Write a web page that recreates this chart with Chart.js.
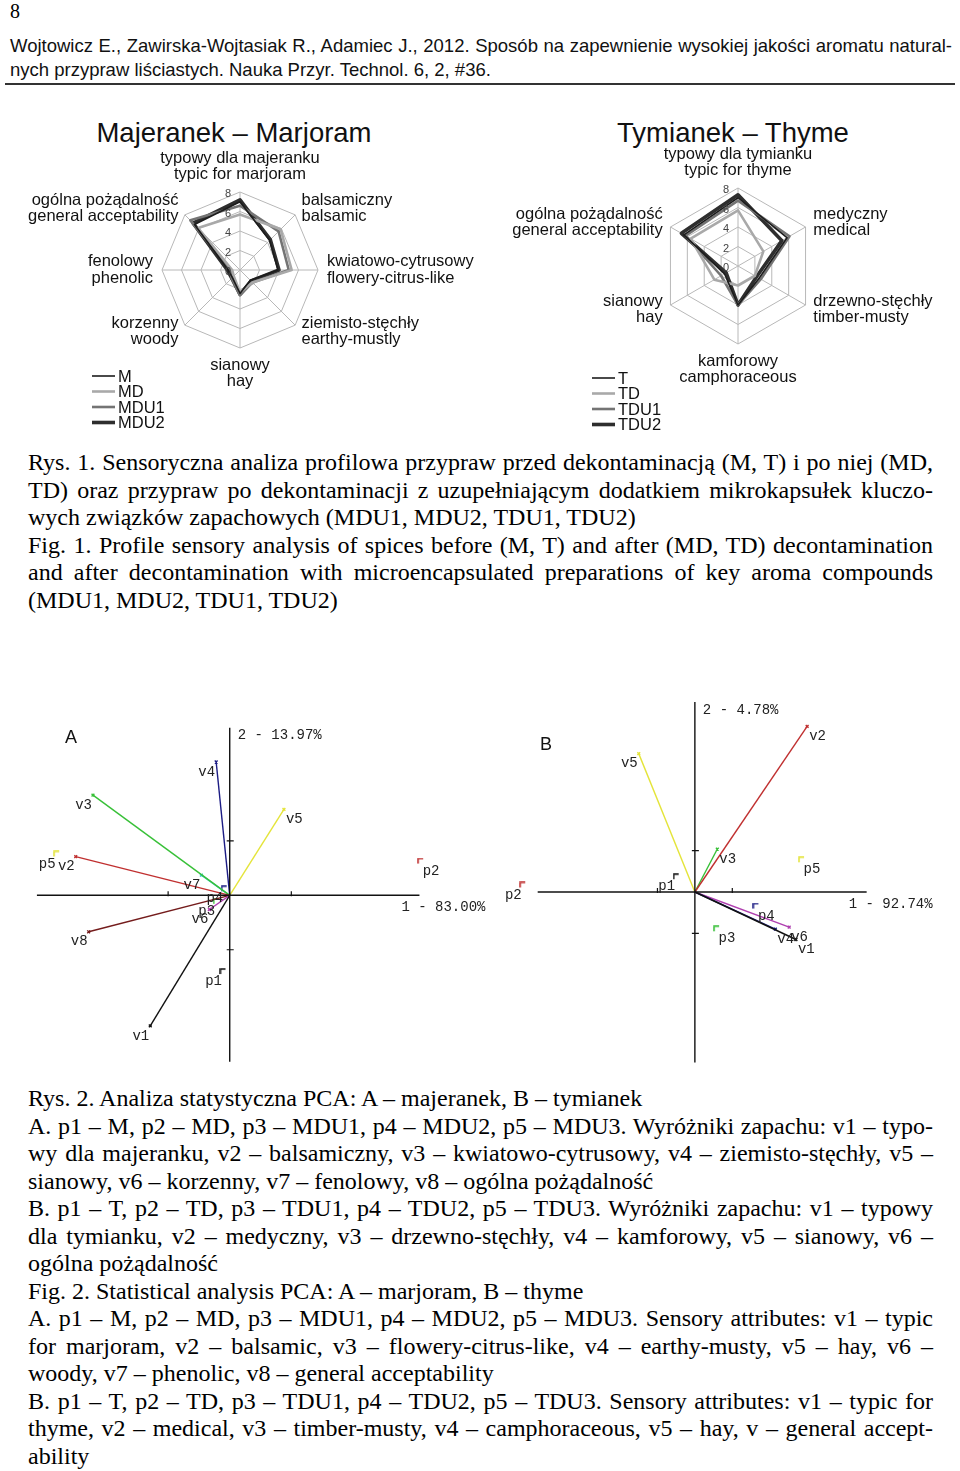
<!DOCTYPE html>
<html lang="pl">
<head>
<meta charset="UTF-8">
<script src="https://cdn.jsdelivr.net/npm/chart.js"></script>
<title>Majeranek i tymianek</title>
<style>
  body { margin:0; width:960px; height:1471px; position:relative; background:#fff; overflow:hidden; }
  canvas { position:absolute; }
  .abs { position:absolute; }
  .hdr { font-family:'Liberation Sans'; font-size:18.5px; line-height:24px; color:#111; left:10px; width:942px; top:34px; }
  .j { white-space:nowrap; }
  .cap { font-family:'Liberation Serif'; font-size:24px; line-height:27.5px; color:#000; left:28px; width:905px; }
  .ttl { font-family:'Liberation Sans'; font-size:27.5px; line-height:34px; color:#111; text-align:center; width:400px; top:116px; }
  .pan { font-family:'Liberation Sans'; font-size:18px; color:#111; }
</style>
</head>
<body>
<div class="abs" style="left:10px;top:0;font-family:'Liberation Serif';font-size:20px;">8</div>
<div class="abs hdr">
  <div class="j">Wojtowicz E., Zawirska-Wojtasiak R., Adamiec J., 2012. Sposób na zapewnienie wysokiej jakości aromatu natural-</div>
  <div>nych przypraw liściastych. Nauka Przyr. Technol. 6, 2, #36.</div>
</div>
<div class="abs" style="left:5px;top:83px;width:950px;height:2px;background:#333;"></div>

<div class="abs ttl" style="left:34px;">Majeranek – Marjoram</div>
<div class="abs ttl" style="left:533px;">Tymianek – Thyme</div>

<canvas id="radarMaj" width="470" height="330" style="left:20px;top:110px;"></canvas>
<canvas id="radarTym" width="460" height="330" style="left:500px;top:110px;"></canvas>

<div class="abs cap" style="top:449px;">
  <div class="j">Rys. 1. Sensoryczna analiza profilowa przypraw przed dekontaminacją (M, T) i po niej (MD,</div>
  <div class="j">TD) oraz przypraw po dekontaminacji z uzupełniającym dodatkiem mikrokapsułek kluczo-</div>
  <div>wych związków zapachowych (MDU1, MDU2, TDU1, TDU2)</div>
  <div class="j">Fig. 1. Profile sensory analysis of spices before (M, T) and after (MD, TD) decontamination</div>
  <div class="j">and after decontamination with microencapsulated preparations of key aroma compounds</div>
  <div>(MDU1, MDU2, TDU1, TDU2)</div>
</div>

<canvas id="pcaA" width="480" height="385" style="left:20px;top:690px;"></canvas>
<canvas id="pcaB" width="470" height="385" style="left:490px;top:690px;"></canvas>
<div class="abs pan" style="left:65px;top:727px;">A</div>
<div class="abs pan" style="left:540px;top:734px;">B</div>

<div class="abs cap" style="top:1085px;">
  <div>Rys. 2. Analiza statystyczna PCA: A – majeranek, B – tymianek</div>
  <div class="j">A. p1 – M, p2 – MD, p3 – MDU1, p4 – MDU2, p5 – MDU3. Wyróżniki zapachu: v1 – typo-</div>
  <div class="j">wy dla majeranku, v2 – balsamiczny, v3 – kwiatowo-cytrusowy, v4 – ziemisto-stęchły, v5 –</div>
  <div>sianowy, v6 – korzenny, v7 – fenolowy, v8 – ogólna pożądalność</div>
  <div class="j">B. p1 – T, p2 – TD, p3 – TDU1, p4 – TDU2, p5 – TDU3. Wyróżniki zapachu: v1 – typowy</div>
  <div class="j">dla tymianku, v2 – medyczny, v3 – drzewno-stęchły, v4 – kamforowy, v5 – sianowy, v6 –</div>
  <div>ogólna pożądalność</div>
  <div>Fig. 2. Statistical analysis PCA: A – marjoram, B – thyme</div>
  <div class="j">A. p1 – M, p2 – MD, p3 – MDU1, p4 – MDU2, p5 – MDU3. Sensory attributes: v1 – typic</div>
  <div class="j">for marjoram, v2 – balsamic, v3 – flowery-citrus-like, v4 – earthy-musty, v5 – hay, v6 –</div>
  <div>woody, v7 – phenolic, v8 – general acceptability</div>
  <div class="j">B. p1 – T, p2 – TD, p3 – TDU1, p4 – TDU2, p5 – TDU3. Sensory attributes: v1 – typic for</div>
  <div class="j">thyme, v2 – medical, v3 – timber-musty, v4 – camphoraceous, v5 – hay, v – general accept-</div>
  <div>ability</div>
</div>

<script>
// ---------- radar data ----------
const radarTicks = [0, 2, 4, 6, 8];

const majLabels = [
  ['typowy dla majeranku', 'typic for marjoram'],
  ['balsamiczny', 'balsamic'],
  ['kwiatowo-cytrusowy', 'flowery-citrus-like'],
  ['ziemisto-stęchły', 'earthy-mustly'],
  ['sianowy', 'hay'],
  ['korzenny', 'woody'],
  ['fenolowy', 'phenolic'],
  ['ogólna pożądalność', 'general acceptability']
];
const majSeries = ['M', 'MD', 'MDU1', 'MDU2'];
const majM    = [7.0, 4.3, 3.9, 1.5, 2.4, 1.1, 1.2, 6.6];
const majMD   = [5.7, 5.9, 5.3, 1.8, 2.3, 0.9, 0.8, 6.1];
const majMDU1 = [6.6, 5.6, 5.0, 1.8, 2.6, 1.2, 1.0, 7.2];
const majMDU2 = [7.2, 4.4, 4.0, 1.6, 2.5, 1.2, 1.3, 6.8];

const tymLabels = [
  ['typowy dla tymianku', 'typic for thyme'],
  ['medyczny', 'medical'],
  ['drzewno-stęchły', 'timber-musty'],
  ['kamforowy', 'camphoraceous'],
  ['sianowy', 'hay'],
  ['ogólna pożądalność', 'general acceptability']
];
const tymSeries = ['T', 'TD', 'TDU1', 'TDU2'];
const tymT    = [7.0, 5.8, 2.5, 4.0, 1.6, 6.4];
const tymTD   = [5.7, 3.0, 2.0, 2.0, 2.8, 5.6];
const tymTDU1 = [6.7, 6.1, 2.7, 4.0, 2.0, 6.2];
const tymTDU2 = [7.3, 5.2, 2.2, 4.0, 1.4, 6.7];

// ---------- PCA data ----------
const pcaAVars = ['v1', 'v2', 'v3', 'v4', 'v5', 'v6', 'v7', 'v8'];
const pcaAVarX = [-1.29, -2.50, -2.22, -0.22, 0.88, -0.33, -0.46, -2.29];
const pcaAVarY = [-2.40, 0.71, 1.84, 2.45, 1.58, -0.26, 0.37, -0.67];
const pcaAObs  = ['p1', 'p2', 'p3', 'p4', 'p5'];
const pcaAObsX = [-0.11, 3.10, -0.22, -0.09, -2.81];
const pcaAObsY = [-1.40, 0.63, -0.11, 0.12, 0.76];
const pcaAAxisX = [-3.13, 3.08];
const pcaAAxisY = [-3.06, 3.08];
const pcaATitles = ['1 - 83.00%', '2 - 13.97%'];

const pcaBVars = ['v1', 'v2', 'v3', 'v4', 'v5', 'v6'];
const pcaBVarX = [2.70, 3.00, 0.60, 2.15, -1.50, 2.52];
const pcaBVarY = [-1.15, 4.01, 1.04, -0.90, 3.35, -0.85];
const pcaBObs  = ['p1', 'p2', 'p3', 'p4', 'p5'];
const pcaBObsX = [-0.50, -4.60, 0.58, 1.63, 2.85];
const pcaBObsY = [0.37, 0.17, -0.89, -0.34, 0.78];
const pcaBAxisX = [-4.20, 4.59];
const pcaBAxisY = [-4.13, 4.60];
const pcaBTitles = ['1 - 92.74%', '2 - 4.78%'];

const pcaTicks = [-1, 1];

// ---------- style ----------
const greyStyles = [
  { color: '#1c1c1c', width: 1.6 },
  { color: '#a9a9a9', width: 2.6 },
  { color: '#747474', width: 2.6 },
  { color: '#2e2e2e', width: 3.6 }
];
const pcaPalette = ['#111111', '#c03030', '#38c038', '#1c1c84', '#e4e43a', '#b040b0', '#30c8c8', '#741c1c'];

// justowanie linii tekstu przez word-spacing (bez łamania)
function fitLine(el, target) {
  const span = document.createElement('span');
  while (el.firstChild) span.appendChild(el.firstChild);
  el.appendChild(span);
  const w = span.getBoundingClientRect().width;
  const n = (span.textContent.match(/ /g) || []).length;
  if (n) el.style.wordSpacing = ((target - w) / n) + 'px';
}
document.querySelectorAll('.j').forEach(el => fitLine(el, el.parentElement.clientWidth));

// etykiety osi, wartości skali i legenda dla wykresów radarowych
const radarDecor = {
  id: 'radarDecor',
  afterDraw(chart, args, opts) {
    const r = chart.scales.r;
    const ctx = chart.ctx;
    ctx.save();

    ctx.font = '11px "Liberation Sans"';
    ctx.fillStyle = '#444';
    ctx.textAlign = 'right';
    ctx.textBaseline = 'middle';
    radarTicks.forEach(v => {
      const d = r.getDistanceFromCenterForValue(v);
      ctx.fillText(String(v), r.xCenter - 9, r.yCenter - d + 2);
    });

    ctx.font = '16.5px "Liberation Sans"';
    ctx.fillStyle = '#111';
    ctx.textBaseline = 'top';
    const lh = 16.5;
    chart.data.labels.forEach((lines, i) => {
      const p = r.getPointPosition(i, r.drawingArea + opts.gap);
      const dx = p.x - r.xCenter, dy = p.y - r.yCenter;
      let y0;
      if (Math.abs(dx) < 2) {
        ctx.textAlign = 'center';
        y0 = dy < 0 ? p.y - lh * lines.length : p.y;
      } else {
        ctx.textAlign = dx > 0 ? 'left' : 'right';
        y0 = p.y - lh * lines.length / 2;
      }
      lines.forEach((t, k) => ctx.fillText(t, p.x, y0 + k * lh));
    });

    // legenda
    const lx = chart.chartArea.left + opts.legendX;
    const ly = chart.chartArea.bottom + opts.legendY;
    ctx.textAlign = 'left';
    ctx.textBaseline = 'middle';
    chart.data.datasets.forEach((ds, i) => {
      const y = ly + i * 15.5;
      ctx.strokeStyle = ds.borderColor;
      ctx.lineWidth = ds.borderWidth;
      ctx.beginPath();
      ctx.moveTo(lx, y);
      ctx.lineTo(lx + 23, y);
      ctx.stroke();
      ctx.fillText(ds.label, lx + 26, y + 1);
    });
    ctx.restore();
  }
};

function radarChart(id, labels, names, series, pad, legendX, legendY) {
  new Chart(document.getElementById(id), {
    type: 'radar',
    data: {
      labels: labels,
      datasets: names.map((n, i) => ({
        label: n,
        data: series[i],
        borderColor: greyStyles[i].color,
        borderWidth: greyStyles[i].width,
        fill: false,
        pointRadius: 0,
        borderJoinStyle: 'round'
      }))
    },
    options: {
      responsive: false,
      animation: false,
      devicePixelRatio: 1,
      layout: { padding: pad },
      plugins: {
        legend: { display: false },
        tooltip: { enabled: false },
        radarDecor: { gap: 9, legendX: legendX, legendY: legendY }
      },
      scales: {
        r: {
          min: 0,
          max: 8,
          ticks: { display: false, stepSize: 2 },
          pointLabels: { display: false },
          grid: { color: '#b8b8b8', lineWidth: 1 },
          angleLines: { color: '#b8b8b8', lineWidth: 1 }
        }
      }
    },
    plugins: [radarDecor]
  });
}

radarChart('radarMaj', majLabels, majSeries, [majM, majMD, majMDU1, majMDU2],
  { left: 142, top: 82, right: 172, bottom: 92 }, -70, 28);
radarChart('radarTym', tymLabels, tymSeries, [tymT, tymTD, tymTDU1, tymTDU2],
  { left: 160, top: 78, right: 144, bottom: 96 }, -68, 34);

// ---------- PCA ----------
function bracket(color) {
  const c = document.createElement('canvas');
  c.width = 7; c.height = 7;
  const g = c.getContext('2d');
  g.strokeStyle = color;
  g.lineWidth = 1.5;
  g.beginPath();
  g.moveTo(1, 6); g.lineTo(1, 1); g.lineTo(6, 1);
  g.stroke();
  return c;
}

const pcaDecor = {
  id: 'pcaDecor',
  afterDraw(chart, args, opts) {
    const ctx = chart.ctx;
    const sx = chart.scales.x, sy = chart.scales.y;
    const x0 = sx.getPixelForValue(0), y0 = sy.getPixelForValue(0);
    ctx.save();
    ctx.strokeStyle = '#111';
    ctx.lineWidth = 1.2;
    pcaTicks.forEach(t => {
      const px = sx.getPixelForValue(t), py = sy.getPixelForValue(t);
      ctx.beginPath();
      ctx.moveTo(px, y0 - 4); ctx.lineTo(px, y0 + 1);
      ctx.moveTo(x0 - 3, py); ctx.lineTo(x0 + 4, py);
      ctx.stroke();
    });

    ctx.font = '14px "Liberation Mono"';
    ctx.fillStyle = '#222';
    ctx.textBaseline = 'top';
    chart.data.datasets.forEach((ds, di) => {
      if (!ds.tag) return;
      const meta = chart.getDatasetMeta(di);
      const idx = ds.data.length - 1;
      const el = meta.data[idx];
      const v = ds.data[idx];
      ctx.textAlign = v.x < 0 ? 'right' : 'left';
      ctx.fillText(ds.label, el.x + (v.x < 0 ? -1 : 2), el.y + 3);
    });

    ctx.textAlign = 'left';
    ctx.textBaseline = 'middle';
    ctx.fillText(opts.titles[0], sx.getPixelForValue(opts.axisX[1]) - 18, y0 + 12);
    ctx.fillText(opts.titles[1], x0 + 8, sy.getPixelForValue(opts.axisY[1]) + 8);
    ctx.restore();
  }
};

function pcaChart(id, vars, vx, vy, obs, ox, oy, axisX, axisY, titles, range) {
  const datasets = [];
  datasets.push({ data: [{ x: axisX[0], y: 0 }, { x: axisX[1], y: 0 }], showLine: true,
    borderColor: '#111', borderWidth: 1.4, pointRadius: 0 });
  datasets.push({ data: [{ x: 0, y: axisY[0] }, { x: 0, y: axisY[1] }], showLine: true,
    borderColor: '#111', borderWidth: 1.4, pointRadius: 0 });
  vars.forEach((v, i) => datasets.push({
    label: v, tag: 'var',
    data: [{ x: 0, y: 0 }, { x: vx[i], y: vy[i] }],
    showLine: true, borderColor: pcaPalette[i], borderWidth: 1.4,
    pointRadius: [0, 2], pointStyle: 'crossRot', pointBorderColor: pcaPalette[i]
  }));
  obs.forEach((p, i) => datasets.push({
    label: p, tag: 'obs',
    data: [{ x: ox[i], y: oy[i] }],
    pointStyle: bracket(pcaPalette[i])
  }));

  new Chart(document.getElementById(id), {
    type: 'scatter',
    data: { datasets: datasets },
    options: {
      responsive: false,
      animation: false,
      devicePixelRatio: 1,
      layout: { padding: 0 },
      plugins: {
        legend: { display: false },
        tooltip: { enabled: false },
        pcaDecor: { titles: titles, axisX: axisX, axisY: axisY }
      },
      scales: {
        x: { type: 'linear', display: false, min: range[0], max: range[1] },
        y: { type: 'linear', display: false, min: range[2], max: range[3] }
      }
    },
    plugins: [pcaDecor]
  });
}

pcaChart('pcaA', pcaAVars, pcaAVarX, pcaAVarY, pcaAObs, pcaAObsX, pcaAObsY,
  pcaAAxisX, pcaAAxisY, pcaATitles, [-3.317, 4.30, -3.202, 3.673]);
pcaChart('pcaB', pcaBVars, pcaBVarX, pcaBVarY, pcaBObs, pcaBObsX, pcaBObsY,
  pcaBAxisX, pcaBAxisY, pcaBTitles, [-5.33, 6.94, -4.30, 4.76]);
</script>
</body>
</html>
